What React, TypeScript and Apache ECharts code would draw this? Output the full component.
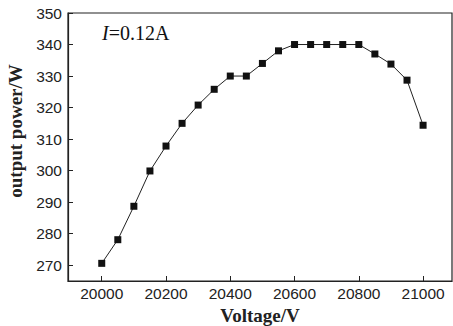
import React, { useEffect, useRef } from "react";
import * as echarts from "echarts";

const voltage = [20000, 20050, 20100, 20150, 20200, 20250, 20300, 20350, 20400, 20450, 20500, 20550, 20600, 20650, 20700, 20750, 20800, 20850, 20900, 20950, 21000];
const power = [270.6, 278.1, 288.7, 299.9, 307.8, 315, 320.8, 325.8, 330, 330, 334, 338, 340, 340, 340, 340, 340, 337, 333.8, 328.7, 314.4];
const xTicks = [20000, 20200, 20400, 20600, 20800, 21000];
const yTicks = [270, 280, 290, 300, 310, 320, 330, 340, 350];

export default function App() {
  const ref = useRef<HTMLDivElement>(null);
  useEffect(() => {
    const chart = echarts.init(ref.current!, null, { renderer: "svg" });
    const labelStyle = {
      fontFamily: "Liberation Sans, Arial, sans-serif",
      fontSize: 15.5,
      color: "#222",
      formatter: (v: number) => String(v),
    };
    chart.setOption({
      animation: false,
      backgroundColor: "#fff",
      grid: {
        left: 68,
        right: 1,
        top: 13,
        bottom: 45,
        containLabel: false,
        outerBoundsMode: "none",
        show: true,
        borderColor: "#222",
        borderWidth: 1.2,
        backgroundColor: "transparent",
      },
      xAxis: {
        type: "value",
        min: 19895,
        max: 21090,
        name: "Voltage/V",
        nameLocation: "middle",
        nameGap: 25,
        nameTextStyle: {
          fontFamily: "Liberation Serif, Times New Roman, serif",
          fontWeight: "bold",
          fontSize: 19,
          color: "#222",
        },
        axisLine: { show: true, lineStyle: { color: "#222", width: 1.2 } },
        axisTick: { show: true, inside: true, length: 5, customValues: xTicks, lineStyle: { color: "#222" } },
        axisLabel: { ...labelStyle, margin: 4, customValues: xTicks },
        splitLine: { show: false },
      },
      yAxis: {
        type: "value",
        min: 265,
        max: 350,
        axisLine: { show: true, lineStyle: { color: "#222", width: 1.2 } },
        axisTick: { show: true, inside: true, length: 5, customValues: yTicks, lineStyle: { color: "#222" } },
        axisLabel: { ...labelStyle, margin: 6, customValues: yTicks },
        splitLine: { show: false },
      },
      graphic: [
        {
          type: "text",
          x: 15,
          y: 131,
          rotation: Math.PI / 2,
          style: {
            text: "output power/W",
            fontFamily: "Liberation Serif, Times New Roman, serif",
            fontWeight: "bold",
            fontSize: 19,
            fill: "#222",
            align: "center",
            verticalAlign: "middle",
          },
        },
        {
          type: "text",
          x: 102,
          y: 33,
          style: {
            text: "{i|I}{n|=0.12A}",
            verticalAlign: "middle",
            rich: {
              i: { fontFamily: "Liberation Serif, serif", fontStyle: "italic", fontSize: 20, fill: "#111" },
              n: { fontFamily: "Liberation Serif, serif", fontSize: 20, fill: "#111" },
            },
          },
        },
      ],
      series: [
        {
          type: "line",
          data: voltage.map((v, i) => [v, power[i]]),
          symbol: "rect",
          symbolSize: 7,
          itemStyle: { color: "#111" },
          lineStyle: { color: "#222", width: 1 },
        },
      ],
    });
    return () => chart.dispose();
  }, []);
  return <div ref={ref} style={{ width: 453, height: 326, position: "absolute", left: 0, top: 0 }} />;
}
